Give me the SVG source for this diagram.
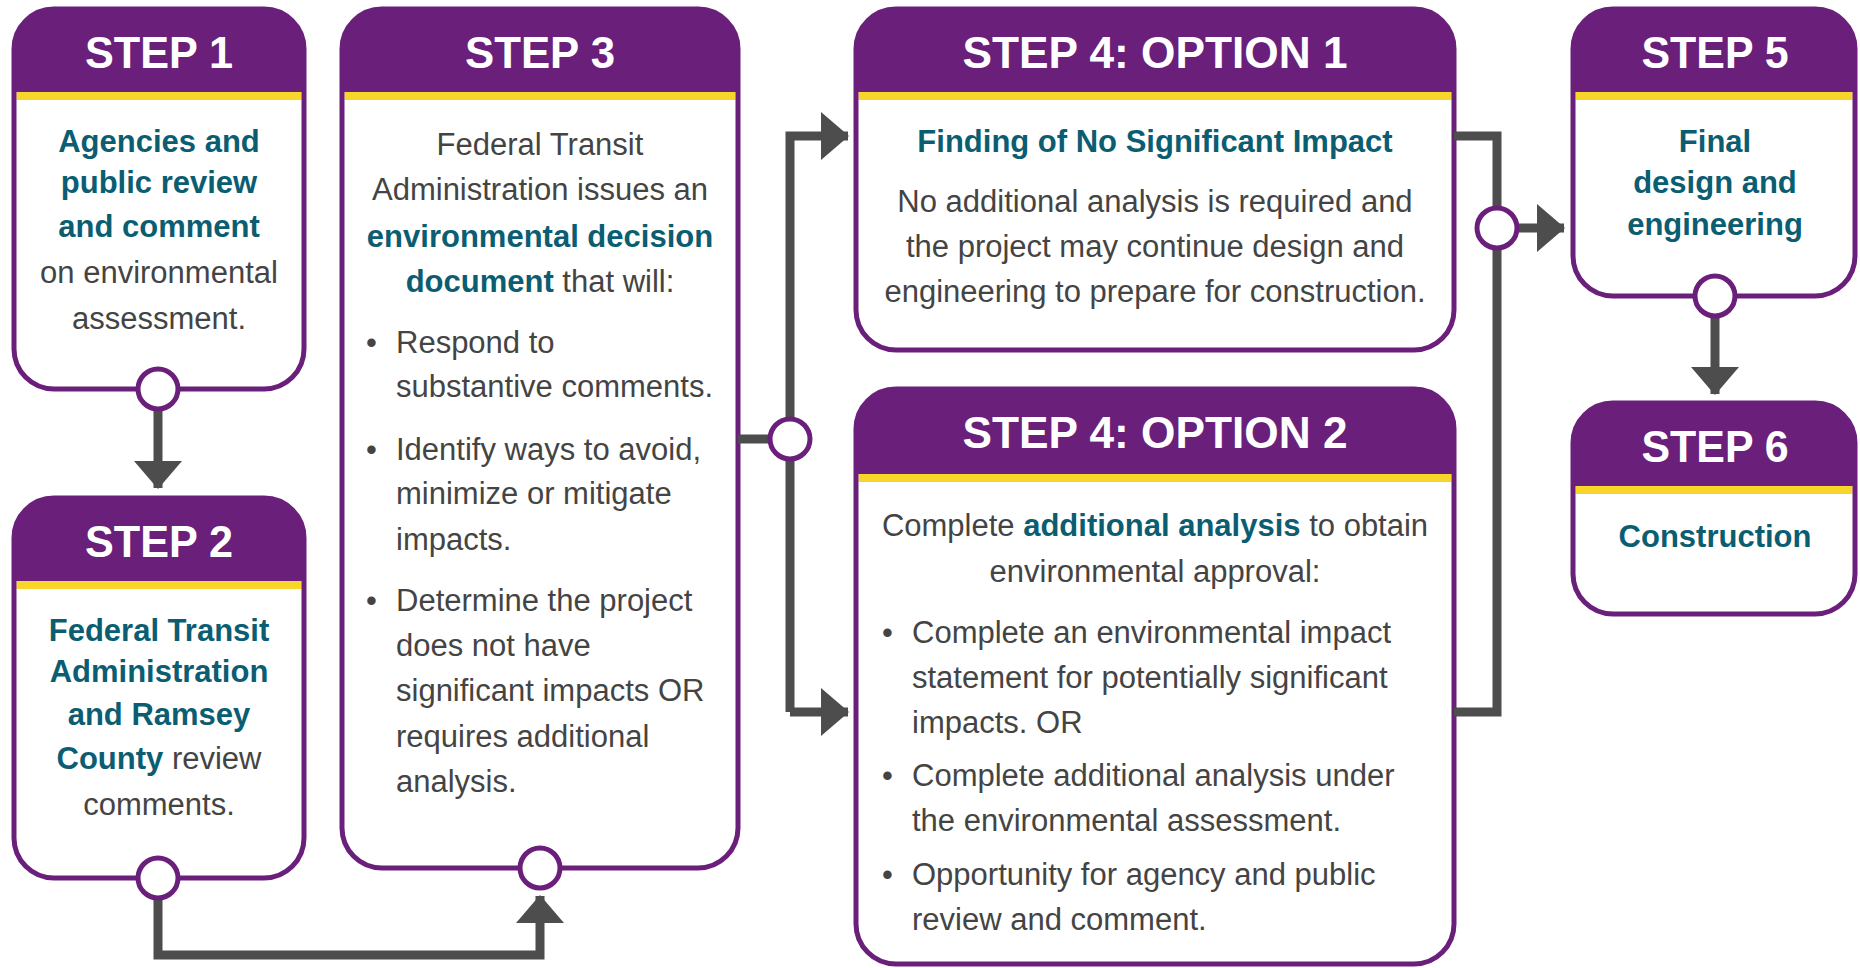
<svg xmlns="http://www.w3.org/2000/svg" width="1860" height="968" viewBox="0 0 1860 968">
<style>
.box{fill:none;stroke:#6a1f7b;stroke-width:5}
.bg{fill:#ffffff}
.hd{fill:#6a1f7b}
.yl{fill:#f7d52a}
.ttl{font-family:"Liberation Sans",Arial,sans-serif;font-weight:bold;font-size:45px;fill:#ffffff;text-anchor:middle}
.t{font-family:"Liberation Sans",Arial,sans-serif;font-size:31px;fill:#444444}
.c{text-anchor:middle}
.b{font-weight:bold;fill:#0b5d72}
.ln{fill:none;stroke:#4d4d4d;stroke-width:9}
.port{fill:#ffffff;stroke:#6a1f7b;stroke-width:5}
</style>
<defs>
<marker id="ah" markerUnits="userSpaceOnUse" markerWidth="28" markerHeight="48" refX="27" refY="24" orient="auto">
<path d="M0,0 L28,24 L0,48 Z" fill="#4d4d4d"/>
</marker>
</defs>
<rect width="1860" height="968" fill="#ffffff"/>

<g id="step1">
<rect class="bg" x="14" y="9" width="290" height="380" rx="40"/>
<path class="hd" d="M14,92 L14,49 A40,40 0 0 1 54,9 L264,9 A40,40 0 0 1 304,49 L304,92 Z"/>
<rect class="yl" x="16.5" y="92" width="285" height="8"/>
<rect class="box" x="14" y="9" width="290" height="380" rx="40"/>
<text class="ttl" x="159" y="68" textLength="148" lengthAdjust="spacingAndGlyphs">STEP 1</text>
<text class="t c b" x="159" y="152">Agencies and</text>
<text class="t c b" x="159" y="193">public review</text>
<text class="t c b" x="159" y="237">and comment</text>
<text class="t c" x="159" y="283">on environmental</text>
<text class="t c" x="159" y="329">assessment.</text>
</g>

<g id="step2">
<rect class="bg" x="14" y="498" width="290" height="380" rx="40"/>
<path class="hd" d="M14,581 L14,538 A40,40 0 0 1 54,498 L264,498 A40,40 0 0 1 304,538 L304,581 Z"/>
<rect class="yl" x="16.5" y="581" width="285" height="8"/>
<rect class="box" x="14" y="498" width="290" height="380" rx="40"/>
<text class="ttl" x="159" y="557" textLength="148" lengthAdjust="spacingAndGlyphs">STEP 2</text>
<text class="t c b" x="159" y="641">Federal Transit</text>
<text class="t c b" x="159" y="682">Administration</text>
<text class="t c b" x="159" y="725">and Ramsey</text>
<text class="t c" x="159" y="769"><tspan class="b">County</tspan> review</text>
<text class="t c" x="159" y="815">comments.</text>
</g>

<g id="step3">
<rect class="bg" x="342" y="9" width="396" height="859" rx="40"/>
<path class="hd" d="M342,92 L342,49 A40,40 0 0 1 382,9 L698,9 A40,40 0 0 1 738,49 L738,92 Z"/>
<rect class="yl" x="344.5" y="92" width="391" height="8"/>
<rect class="box" x="342" y="9" width="396" height="859" rx="40"/>
<text class="ttl" x="540" y="68" textLength="150" lengthAdjust="spacingAndGlyphs">STEP 3</text>
<text class="t c" x="540" y="155">Federal Transit</text>
<text class="t c" x="540" y="200">Administration issues an</text>
<text class="t c b" x="540" y="247">environmental decision</text>
<text class="t c" x="540" y="292"><tspan class="b">document</tspan> that will:</text>
<text class="t" x="366" y="353">•</text>
<text class="t" x="396" y="353">Respond to</text>
<text class="t" x="396" y="397">substantive comments.</text>
<text class="t" x="366" y="460">•</text>
<text class="t" x="396" y="460">Identify ways to avoid,</text>
<text class="t" x="396" y="504">minimize or mitigate</text>
<text class="t" x="396" y="550">impacts.</text>
<text class="t" x="366" y="611">•</text>
<text class="t" x="396" y="611">Determine the project</text>
<text class="t" x="396" y="656">does not have</text>
<text class="t" x="396" y="701">significant impacts OR</text>
<text class="t" x="396" y="747">requires additional</text>
<text class="t" x="396" y="792">analysis.</text>
</g>

<g id="step4-option1">
<rect class="bg" x="856" y="9" width="598" height="341" rx="40"/>
<path class="hd" d="M856,92 L856,49 A40,40 0 0 1 896,9 L1414,9 A40,40 0 0 1 1454,49 L1454,92 Z"/>
<rect class="yl" x="858.5" y="92" width="593" height="8"/>
<rect class="box" x="856" y="9" width="598" height="341" rx="40"/>
<text class="ttl" x="1155" y="68" textLength="385" lengthAdjust="spacingAndGlyphs">STEP 4: OPTION 1</text>
<text class="t c b" x="1155" y="152">Finding of No Significant Impact</text>
<text class="t c" x="1155" y="212">No additional analysis is required and</text>
<text class="t c" x="1155" y="257">the project may continue design and</text>
<text class="t c" x="1155" y="302">engineering to prepare for construction.</text>
</g>

<g id="step4-option2">
<rect class="bg" x="856" y="389" width="598" height="575" rx="40"/>
<path class="hd" d="M856,474 L856,429 A40,40 0 0 1 896,389 L1414,389 A40,40 0 0 1 1454,429 L1454,474 Z"/>
<rect class="yl" x="858.5" y="474" width="593" height="8"/>
<rect class="box" x="856" y="389" width="598" height="575" rx="40"/>
<text class="ttl" x="1155" y="448" textLength="385" lengthAdjust="spacingAndGlyphs">STEP 4: OPTION 2</text>
<text class="t c" x="1155" y="536">Complete <tspan class="b">additional analysis</tspan> to obtain</text>
<text class="t c" x="1155" y="582">environmental approval:</text>
<text class="t" x="882" y="643">•</text>
<text class="t" x="912" y="643">Complete an environmental impact</text>
<text class="t" x="912" y="688">statement for potentially significant</text>
<text class="t" x="912" y="733">impacts. OR</text>
<text class="t" x="882" y="786">•</text>
<text class="t" x="912" y="786">Complete additional analysis under</text>
<text class="t" x="912" y="831">the environmental assessment.</text>
<text class="t" x="882" y="885">•</text>
<text class="t" x="912" y="885">Opportunity for agency and public</text>
<text class="t" x="912" y="930">review and comment.</text>
</g>

<g id="step5">
<rect class="bg" x="1573" y="9" width="282" height="287" rx="40"/>
<path class="hd" d="M1573,92 L1573,49 A40,40 0 0 1 1613,9 L1815,9 A40,40 0 0 1 1855,49 L1855,92 Z"/>
<rect class="yl" x="1575.5" y="92" width="277" height="8"/>
<rect class="box" x="1573" y="9" width="282" height="287" rx="40"/>
<text class="ttl" x="1715" y="68" textLength="147" lengthAdjust="spacingAndGlyphs">STEP 5</text>
<text class="t c b" x="1715" y="152">Final</text>
<text class="t c b" x="1715" y="193">design and</text>
<text class="t c b" x="1715" y="235">engineering</text>
</g>

<g id="step6">
<rect class="bg" x="1573" y="403" width="282" height="211" rx="40"/>
<path class="hd" d="M1573,486 L1573,443 A40,40 0 0 1 1613,403 L1815,403 A40,40 0 0 1 1855,443 L1855,486 Z"/>
<rect class="yl" x="1575.5" y="486" width="277" height="8"/>
<rect class="box" x="1573" y="403" width="282" height="211" rx="40"/>
<text class="ttl" x="1715" y="462" textLength="147" lengthAdjust="spacingAndGlyphs">STEP 6</text>
<text class="t c b" x="1715" y="547">Construction</text>
</g>

<g id="connectors">
<path class="ln" d="M158,409 L158,488" marker-end="url(#ah)"/>
<path class="ln" d="M158,898 L158,955 L540,955 L540,896" marker-end="url(#ah)"/>
<path class="ln" d="M738,439 L790,439"/>
<path class="ln" d="M790,712 L790,136 L848,136" marker-end="url(#ah)"/>
<path class="ln" d="M790,712 L848,712" marker-end="url(#ah)"/>
<path class="ln" d="M1454,136 L1497,136 L1497,712 L1454,712"/>
<path class="ln" d="M1517,228 L1564,228" marker-end="url(#ah)"/>
<path class="ln" d="M1715,316 L1715,394" marker-end="url(#ah)"/>
<circle class="port" cx="158" cy="389" r="20"/>
<circle class="port" cx="158" cy="878" r="20"/>
<circle class="port" cx="540" cy="868" r="20"/>
<circle class="port" cx="790" cy="439" r="20"/>
<circle class="port" cx="1497" cy="228" r="20"/>
<circle class="port" cx="1715" cy="296" r="20"/>
</g>
</svg>
